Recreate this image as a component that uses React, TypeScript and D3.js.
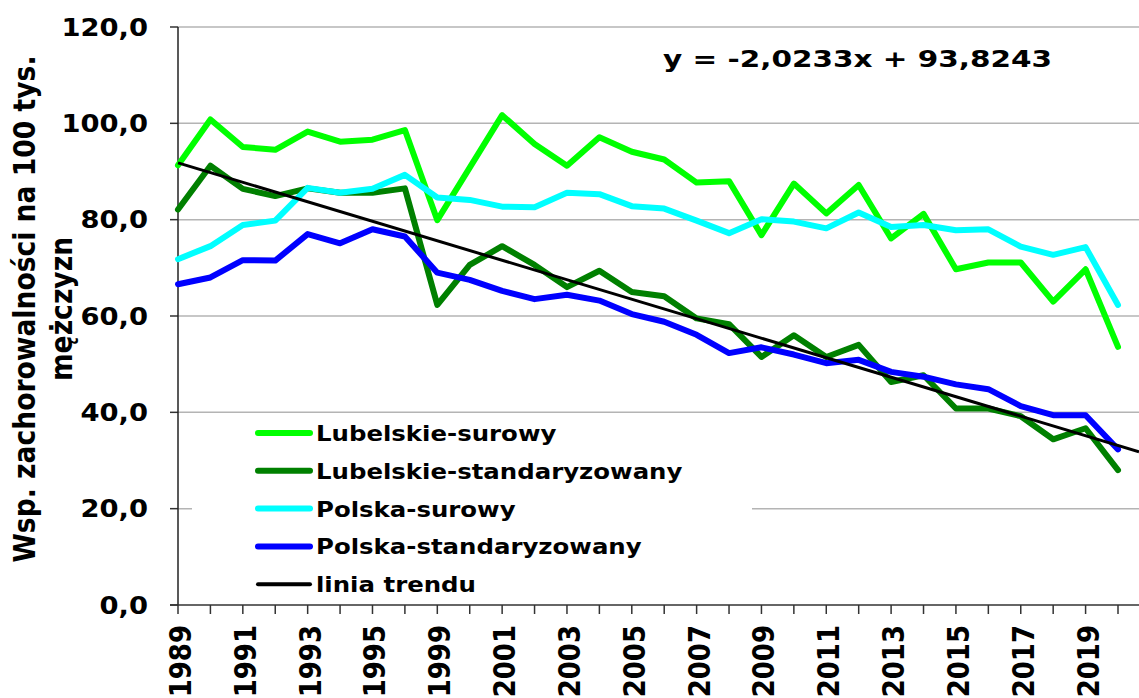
import React from 'react';
import * as d3 from 'd3';

const YEARS = ['1989','1990','1991','1992','1993','1994','1995','1997','1999','2000','2001','2002','2003','2004','2005','2006','2007','2008','2009','2010','2011','2012','2013','2014','2015','2016','2017','2018','2019','2020'];
const LUB_SUROWY = [91.3, 100.8, 95.1, 94.5, 98.3, 96.2, 96.6, 98.6, 79.9, 90.8, 101.7, 95.7, 91.2, 97.1, 94.1, 92.5, 87.7, 88.0, 76.8, 87.5, 81.3, 87.2, 76.1, 81.2, 69.7, 71.1, 71.1, 63.0, 69.7, 53.6];
const LUB_STD = [82.1, 91.2, 86.4, 84.9, 86.5, 85.6, 85.6, 86.5, 62.3, 70.6, 74.5, 70.6, 66.0, 69.4, 65.0, 64.1, 59.5, 58.3, 51.5, 56.0, 51.5, 54.0, 46.3, 47.7, 40.8, 40.8, 39.2, 34.4, 36.7, 28.0];
const PL_SUROWY = [71.8, 74.5, 78.9, 79.8, 86.6, 85.6, 86.4, 89.3, 84.6, 84.1, 82.7, 82.6, 85.6, 85.3, 82.8, 82.3, 79.8, 77.2, 80.1, 79.6, 78.2, 81.5, 78.5, 78.9, 77.8, 78.0, 74.4, 72.7, 74.3, 62.3];
const PL_STD = [66.6, 68.0, 71.6, 71.5, 77.0, 75.1, 78.0, 76.5, 69.0, 67.5, 65.2, 63.5, 64.4, 63.2, 60.4, 58.8, 56.1, 52.3, 53.5, 52.0, 50.2, 50.9, 48.4, 47.4, 45.8, 44.8, 41.3, 39.4, 39.4, 32.3];
const TREND_SLOPE = -2.0233;
const TREND_INTERCEPT = 93.8243;
const Y_TICKS = [0, 20, 40, 60, 80, 100, 120];
const SERIES_NAMES = ['Lubelskie-surowy', 'Lubelskie-standaryzowany', 'Polska-surowy', 'Polska-standaryzowany', 'linia trendu'];
const EQUATION = 'y = -2,0233x + 93,8243';
const Y_TITLE = ['Wsp. zachorowalności na 100 tys.', 'mężczyzn'];

const W = 1139, H = 698;
const FONT = '"DejaVu Sans", Verdana, sans-serif';

export default function App() {
  const left = 178, right = 1118, plotRight = 1139, top = 27, bottom = 605;
  const x = d3.scalePoint<string>().domain(YEARS).range([left, right]);
  const step = x.step();
  const y = d3.scaleLinear().domain([0, 120]).range([bottom, top]);
  const xi = (i: number) => left + i * step;

  const line = d3.line<number>().x((_, i) => xi(i)).y(d => y(d)).curve(d3.curveLinear);

  const series = [
    { name: SERIES_NAMES[0], data: LUB_SUROWY, color: '#00ff00' },
    { name: SERIES_NAMES[1], data: LUB_STD, color: '#008000' },
    { name: SERIES_NAMES[2], data: PL_SUROWY, color: '#00ffff' },
    { name: SERIES_NAMES[3], data: PL_STD, color: '#0000ff' },
  ];

  const iEnd = (plotRight - left) / step;
  const trendPts: [number, number][] = [0, iEnd].map(i => [xi(i), y(TREND_SLOPE * (i + 1) + TREND_INTERCEPT)]);

  const legendItems = [
    ...series.map(s => ({ name: s.name, color: s.color, w: 6 })),
    { name: SERIES_NAMES[4], color: '#000000', w: 4 },
  ];

  return (
    <svg width={W} height={H} style={{ position: 'absolute', left: 0, top: 0, background: '#fff' }} fontFamily={FONT}>
      <rect x={0} y={0} width={W} height={H} fill="#fff" />
      {/* gridlines */}
      {Y_TICKS.filter(t => t > 0).map(t => (
        <line key={'g' + t} x1={left} x2={plotRight} y1={y(t)} y2={y(t)} stroke="#b4b4b4" strokeWidth={1.5} />
      ))}
      {/* y ticks */}
      {Y_TICKS.map(t => (
        <line key={'yt' + t} x1={170} x2={left} y1={y(t)} y2={y(t)} stroke="#333" strokeWidth={1.5} />
      ))}
      {/* x ticks */}
      {YEARS.map((yr, i) => (
        <line key={'xt' + yr} x1={x(yr)} x2={x(yr)} y1={bottom} y2={bottom + 9} stroke="#333" strokeWidth={1.5} />
      ))}
      {/* axes */}
      <line x1={left} x2={left} y1={top} y2={bottom} stroke="#222" strokeWidth={1.5} />
      <line x1={170} x2={plotRight} y1={bottom} y2={bottom} stroke="#333" strokeWidth={1.5} />

      {/* legend background */}
      <rect x={192} y={415} width={560} height={186} fill="#fff" />

      {/* series */}
      {series.map(s => (
        <path key={s.name} d={line(s.data) || ''} fill="none" stroke={s.color} strokeWidth={6} strokeLinejoin="round" strokeLinecap="round" />
      ))}
      <path d={d3.line()(trendPts) || ''} stroke="#000" strokeWidth={3} fill="none" />

      {/* y tick labels */}
      {Y_TICKS.map(t => (
        <text key={'yl' + t} transform={`translate(148,${y(t) + 8.6}) scale(1.14,1)`} textAnchor="end" fontSize={24} fontWeight="bold" fill="#000">
          {d3.format('.1f')(t).replace('.', ',')}
        </text>
      ))}
      {/* x tick labels */}
      {YEARS.map((yr, i) => i % 2 === 0 ? (
        <text key={'xl' + yr} transform={`translate(${(x(yr) as number) + 13},625) scale(1.17,1) rotate(-90)`} textAnchor="end" fontSize={26} fontWeight="bold" fill="#000">
          {yr}
        </text>
      ) : null)}

      {/* y title */}
      {Y_TITLE.map((t, k) => (
        <text key={'yt' + k} transform={`translate(${k === 0 ? 35 : 72},309) scale(1.12,1) rotate(-90)`} textAnchor="middle" fontSize={26.6} fontWeight="bold" fill="#000">
          {t}
        </text>
      ))}

      {/* equation */}
      <text x={663} y={66.5} fontSize={23} fontWeight="bold" textLength={389} lengthAdjust="spacingAndGlyphs" fill="#000">{EQUATION}</text>

      {/* legend */}
      {legendItems.map((it, k) => {
        const by = 441 + k * 37.8;
        return (
          <g key={it.name}>
            <line x1={258} x2={310} y1={by - 8} y2={by - 8} stroke={it.color} strokeWidth={it.w} strokeLinecap="round" />
            <text transform={`translate(316,${by}) scale(1.11,1)`} fontSize={22} fontWeight="bold" fill="#000">{it.name}</text>
          </g>
        );
      })}
    </svg>
  );
}
